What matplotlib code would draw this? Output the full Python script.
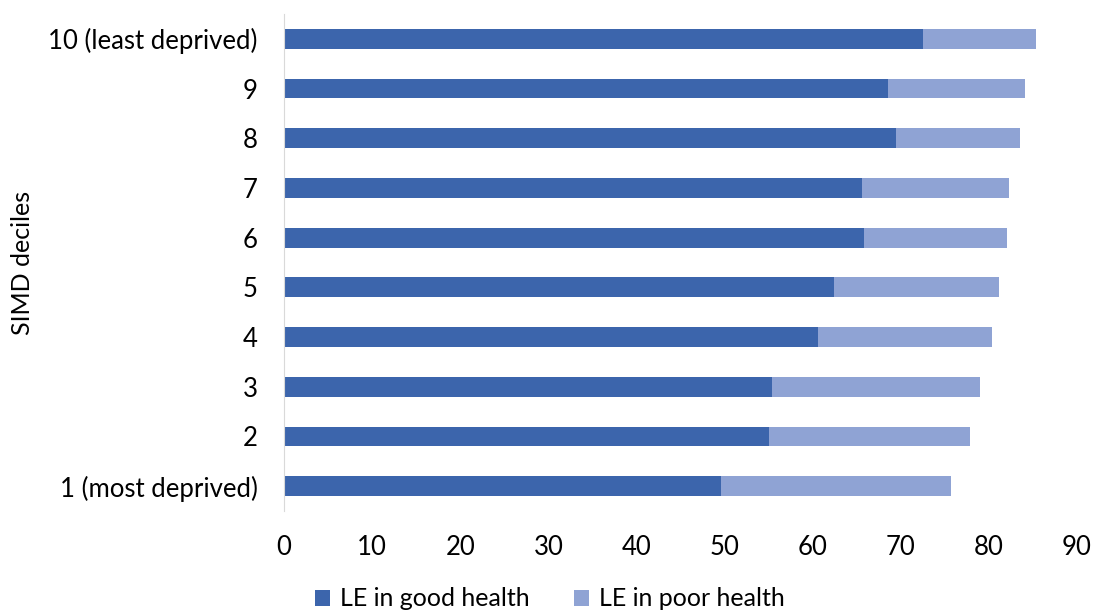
import numpy as np
import matplotlib.pyplot as plt

plt.rcParams['font.family'] = ['Lato', 'DejaVu Sans']

deciles = ['1 (most deprived)', '2', '3', '4', '5', '6', '7', '8', '9', '10 (least deprived)']
good_health = [49.6, 55.1, 55.4, 60.6, 62.4, 65.8, 65.6, 69.5, 68.6, 72.5]
total_le = [75.7, 77.9, 79.0, 80.3, 81.2, 82.1, 82.3, 83.5, 84.1, 85.4]
poor_health = [t - g for t, g in zip(total_le, good_health)]

fig = plt.figure(figsize=(10.95, 6.16), dpi=100)
ax = fig.add_axes([284/1095, 1 - 511/616, (1077-284)/1095, (511-14)/616])

y = np.arange(len(deciles))
ax.barh(y, good_health, height=0.4, color='#3C65AC', label='LE in good health')
ax.barh(y, poor_health, left=good_health, height=0.4, color='#8FA3D4', label='LE in poor health')

ax.set_xlim(0, 90)
ax.set_ylim(-0.5, 9.5)
ax.set_xticks(np.arange(0, 91, 10))
ax.set_yticks(y)
ax.set_yticklabels(deciles)
ax.tick_params(length=0, labelsize=18.5, colors='#000000')
ax.tick_params(axis='x', pad=17)
ax.tick_params(axis='y', pad=19)
for s in ['top', 'right', 'bottom']:
    ax.spines[s].set_visible(False)
ax.spines['left'].set_color('#D9D9D9')
ax.set_ylabel('SIMD deciles', fontsize=18, labelpad=10)

fig.legend(loc='center', bbox_to_anchor=(550/1095, 1 - 599/616), ncol=2, frameon=False,
           fontsize=18, handlelength=0.6, handleheight=0.6, handletextpad=0.4, columnspacing=1.8,
           borderpad=0.1)

fig.savefig('out.png', dpi=100)
